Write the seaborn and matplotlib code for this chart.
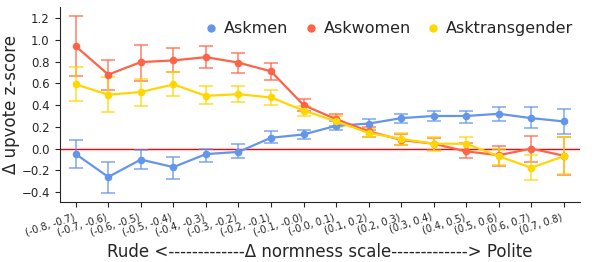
import numpy as np
import pandas as pd
import seaborn as sns
import matplotlib.pyplot as plt
from matplotlib.lines import Line2D

# 구간 라벨
bins = ['(-0.8, -0.7)', '(-0.7, -0.6)', '(-0.6, -0.5)', '(-0.5, -0.4)',
        '(-0.4, -0.3)', '(-0.3, -0.2)', '(-0.2, -0.1)', '(-0.1, -0.0)',
        '(-0.0, 0.1)', '(0.1, 0.2)', '(0.2, 0.3)', '(0.3, 0.4)',
        '(0.4, 0.5)', '(0.5, 0.6)', '(0.6, 0.7)', '(0.7, 0.8)']

# 평균값
askmen = [-0.05, -0.26, -0.10, -0.17, -0.05, -0.03, 0.10, 0.13,
          0.21, 0.23, 0.28, 0.30, 0.30, 0.32, 0.28, 0.25]
askwomen = [0.94, 0.68, 0.795, 0.81, 0.84, 0.79, 0.71, 0.40,
            0.27, 0.16, 0.08, 0.045, -0.025, -0.06, 0.0, -0.065]
asktrans = [0.59, 0.495, 0.52, 0.59, 0.485, 0.50, 0.47, 0.35,
            0.25, 0.145, 0.09, 0.045, 0.045, -0.07, -0.175, -0.07]

# 신뢰구간 (하한, 상한)
askmen_lo = [-0.18, -0.41, -0.19, -0.28, -0.12, -0.09, 0.05, 0.09,
             0.17, 0.17, 0.24, 0.25, 0.24, 0.25, 0.19, 0.13]
askmen_hi = [0.08, -0.125, -0.01, -0.08, 0.0, 0.04, 0.16, 0.17,
             0.25, 0.27, 0.32, 0.35, 0.35, 0.38, 0.38, 0.36]
askwomen_lo = [0.67, 0.535, 0.62, 0.70, 0.74, 0.695, 0.63, 0.35,
               0.21, 0.11, 0.03, -0.01, -0.085, -0.16, -0.12, -0.245]
askwomen_hi = [1.22, 0.81, 0.95, 0.92, 0.94, 0.875, 0.79, 0.455,
               0.32, 0.20, 0.13, 0.10, 0.05, 0.02, 0.12, 0.11]
asktrans_lo = [0.44, 0.34, 0.395, 0.48, 0.41, 0.425, 0.40, 0.30,
               0.20, 0.11, 0.035, -0.02, -0.025, -0.15, -0.29, -0.235]
asktrans_hi = [0.75, 0.66, 0.64, 0.70, 0.575, 0.575, 0.54, 0.395,
               0.30, 0.18, 0.14, 0.105, 0.11, 0.0, -0.06, 0.11]

names = ['Askmen', 'Askwomen', 'Asktransgender']
colors = ['cornflowerblue', 'tomato', 'gold']
means = [askmen, askwomen, asktrans]
los = [askmen_lo, askwomen_lo, asktrans_lo]
his = [askmen_hi, askwomen_hi, asktrans_hi]

rows = []
for n, m in zip(names, means):
    for i, v in enumerate(m):
        rows.append({'bin': i, 'sub': n, 'z': v})
df = pd.DataFrame(rows)

sns.set_style('ticks')
fig, ax = plt.subplots(figsize=(5.95, 2.62), dpi=100)
fig.subplots_adjust(left=0.10, right=0.975, top=0.973, bottom=0.229)

x = np.arange(len(bins))
for n, c, m, lo, hi in zip(names, colors, means, los, his):
    m = np.array(m)
    yerr = [m - np.array(lo), np.array(hi) - m]
    ax.errorbar(x, m, yerr=yerr, fmt='none', ecolor=c, alpha=0.7,
                elinewidth=1.3, capsize=5, capthick=1.3, zorder=2)

sns.lineplot(data=df, x='bin', y='z', hue='sub', palette=colors,
             marker='o', markersize=5.5, markeredgewidth=0, linewidth=1.6,
             ax=ax, legend=False, zorder=3)

ax.axhline(0, color='red', linewidth=1, zorder=1)

ax.set_xlim(-0.5, len(bins) - 0.5)
ax.set_ylim(-0.49, 1.30)
ax.set_yticks([-0.4, -0.2, 0.0, 0.2, 0.4, 0.6, 0.8, 1.0, 1.2])
ax.set_xticks(x)
ax.set_xticklabels(bins, rotation=18, ha='right', fontsize=7)
ax.tick_params(axis='y', labelsize=8.5)
ax.set_ylabel('Δ upvote z-score', fontsize=12)
ax.yaxis.set_label_coords(-0.075, 0.5)
ax.set_xlabel('Rude <-------------Δ normness scale-------------> Polite', fontsize=12)
sns.despine(ax=ax)

handles = [Line2D([], [], marker='o', linestyle='none', color=c, markersize=5)
           for c in colors]
ax.legend(handles, names, loc='upper center', bbox_to_anchor=(0.63, 1.0),
          ncol=3, frameon=False, fontsize=11.5, handletextpad=0.2,
          columnspacing=0.8, handlelength=1.2)

plt.savefig('out.png', dpi=100)
